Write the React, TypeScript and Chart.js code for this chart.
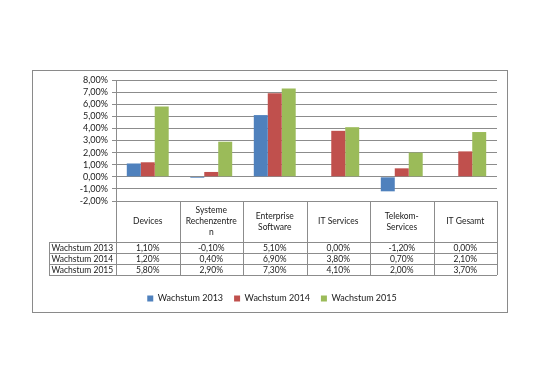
import React, { useEffect, useRef } from 'react';
import { Chart, registerables } from 'chart.js';

Chart.register(...registerables);

const categories = ['Devices', 'Systeme Rechenzentren', 'Enterprise Software', 'IT Services', 'Telekom-Services', 'IT Gesamt'];
const headerLines = [['Devices'], ['Systeme', 'Rechenzentre', 'n'], ['Enterprise', 'Software'], ['IT Services'], ['Telekom-', 'Services'], ['IT Gesamt']];
const seriesNames = ['Wachstum 2013', 'Wachstum 2014', 'Wachstum 2015'];
const growth2013 = [1.1, -0.1, 5.1, 0.0, -1.2, 0.0];
const growth2014 = [1.2, 0.4, 6.9, 3.8, 0.7, 2.1];
const growth2015 = [5.8, 2.9, 7.3, 4.1, 2.0, 3.7];
const seriesValues = [growth2013, growth2014, growth2015];
const seriesColors = ['#4F81BD', '#C0504D', '#9BBB59'];
const yMin = -2;
const yMax = 8;
const yStep = 1;

const FONT = 'Lato';
const TEXT = '#1a1a1a';
const LINE = '#8c8c8c';

const fmt = (v: number) => v.toFixed(2).replace('.', ',') + '%';

const tablePlugin = {
  id: 'dataTable',
  afterDraw(chart: any) {
    const { ctx, chartArea: a } = chart;
    const n = categories.length;
    const w = a.width / n;
    const top = a.bottom;
    const headerH = 41;
    const rowH = 11;
    const tableBottom = top + headerH + rowH * seriesNames.length;
    const labelLeft = a.left - 67;
    ctx.save();
    ctx.strokeStyle = LINE;
    ctx.lineWidth = 1;
    ctx.beginPath();
    for (let k = 0; k <= n; k++) {
      const x = Math.round(a.left + k * w) + 0.5;
      ctx.moveTo(x, top);
      ctx.lineTo(x, tableBottom);
    }
    for (let r = 0; r <= seriesNames.length; r++) {
      const y = Math.round(top + headerH + r * rowH) + 0.5;
      ctx.moveTo(labelLeft, y);
      ctx.lineTo(a.right, y);
    }
    ctx.moveTo(labelLeft + 0.5, Math.round(top + headerH));
    ctx.lineTo(labelLeft + 0.5, Math.round(tableBottom) + 1);
    ctx.stroke();

    ctx.fillStyle = TEXT;
    ctx.font = `8.5px ${FONT}`;
    ctx.textBaseline = 'middle';
    ctx.textAlign = 'center';
    headerLines.forEach((lines, i) => {
      const cx = a.left + (i + 0.5) * w;
      const mid = top + headerH / 2;
      lines.forEach((t, j) => {
        ctx.fillText(t, cx, mid + (j - (lines.length - 1) / 2) * 11);
      });
    });
    seriesNames.forEach((name, r) => {
      const cy = top + headerH + r * rowH + rowH / 2 + 0.5;
      ctx.textAlign = 'left';
      ctx.fillText(name, labelLeft + 2.5, cy);
      ctx.textAlign = 'center';
      seriesValues[r].forEach((v, i) => {
        ctx.fillText(fmt(v), a.left + (i + 0.5) * w, cy);
      });
    });

    ctx.strokeStyle = '#8a8a8a';
    ctx.strokeRect(32.5, 70.5, 475, 242);
    ctx.restore();
  },
};

export default function App() {
  const ref = useRef<HTMLCanvasElement>(null);
  useEffect(() => {
    if (!ref.current) return;
    const chart = new Chart(ref.current, {
      type: 'bar',
      data: {
        labels: categories,
        datasets: seriesNames.map((name, i) => ({
          label: name,
          data: seriesValues[i],
          backgroundColor: seriesColors[i],
          borderWidth: 0,
          categoryPercentage: 0.66,
          barPercentage: 1,
        })),
      },
      options: {
        responsive: false,
        animation: false,
        layout: { padding: { left: 47, right: 43, top: 80, bottom: 69 } },
        plugins: {
          tooltip: { enabled: false },
          legend: {
            position: 'bottom',
            labels: {
              boxWidth: 6,
              boxHeight: 6,
              padding: 11,
              color: TEXT,
              font: { family: FONT, size: 9 },
            },
          },
        },
        scales: {
          x: {
            grid: { display: false },
            border: { display: false },
            ticks: { display: false },
            afterFit: (s: any) => {
              s.height = 82;
            },
          },
          y: {
            min: yMin,
            max: yMax,
            ticks: {
              stepSize: yStep,
              autoSkip: false,
              maxTicksLimit: 20,
              padding: 4,
              color: TEXT,
              font: { family: FONT, size: 9 },
              callback: (v: any) => fmt(Number(v)),
            },
            grid: { color: LINE, tickLength: 4 },
            border: { color: LINE },
            afterFit: (s: any) => {
              s.width = 69;
            },
          },
        },
      },
      plugins: [tablePlugin],
    });
    return () => chart.destroy();
  }, []);
  return (
    <div style={{ position: 'absolute', left: 0, top: 0, width: 540, height: 382, background: '#fff' }}>
      <canvas ref={ref} width={540} height={382} style={{ display: 'block' }} />
    </div>
  );
}
